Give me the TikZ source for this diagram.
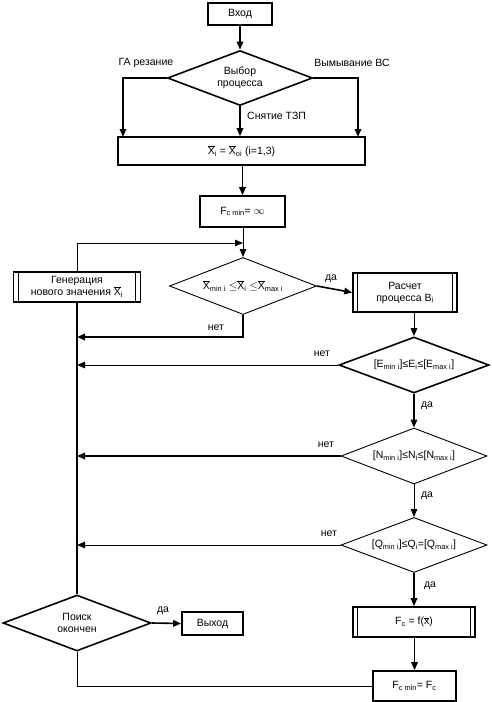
\documentclass[tikz,border=0pt]{standalone}
\usepackage{fontspec}
\setmainfont{Liberation Sans}
\usetikzlibrary{shapes.geometric,arrows.meta}
\newcommand{\ovX}{$\overline{\hbox{X}}$}
\newcommand{\ovx}{$\overline{\hbox{x}}$}
\newcommand{\sub}[1]{\textsubscript{#1}}
\begin{document}
\begin{tikzpicture}[x=1pt,y=-1pt,
  font=\fontsize{10.5}{12}\selectfont,
  thk/.style={line width=1.6pt},
  thn/.style={line width=0.9pt},
  arr/.style={-{Triangle[length=8pt,width=6.5pt]}},
  boxs/.style={draw,thk,rectangle,inner sep=0pt,align=center},
  dia/.style={draw,diamond,aspect=2.6,inner sep=0pt,align=center},
  lbl/.style={inner sep=0pt}]
\useasboundingbox (0,0) rectangle (491,702);
% nodes
\node[boxs,minimum width=64pt,minimum height=22pt] (vhod) at (240,14) {Вход};
\node[dia,thk,minimum width=145pt,minimum height=55pt] (vyb) at (240,78) {Выбор\\процесса};
\node[boxs,minimum width=247pt,minimum height=28pt] (xbox) at (241.5,151) {\ovX\sub{i} = \ovX\sub{oi} (i=1,3)};
\node[boxs,minimum width=85pt,minimum height=31pt] (fcinf) at (242.5,211.5) {F\sub{c min}= $\infty$};
\node[dia,thn,minimum width=147pt,minimum height=57pt] (d2) at (243,286) {\ovX\sub{min i} $\leq$\ovX\sub{i} $\leq$\ovX\sub{max i}};
\node[boxs,minimum width=127pt,minimum height=30pt] (gen) at (77,287) {Генерация\\нового значения \ovX\sub{i}};
\node[boxs,minimum width=104pt,minimum height=39pt] (rasch) at (405,292.5) {Расчет\\процесса B\sub{i}};
\node[dia,thk,minimum width=150pt,minimum height=56pt] (dE) at (414,365) {[E\sub{min i}]≤E\sub{i}≤[E\sub{max i}]};
\node[dia,thn,minimum width=146pt,minimum height=56pt] (dN) at (414,456) {[N\sub{min i}]≤N\sub{i}≤[N\sub{max i}]};
\node[dia,thn,minimum width=146pt,minimum height=55pt] (dQ) at (414,545) {[Q\sub{min i}]≤Q\sub{i}=[Q\sub{max i}]};
\node[boxs,minimum width=122pt,minimum height=30pt] (fc) at (414,622) {F\sub{c} = f(\ovx)};
\node[boxs,minimum width=83pt,minimum height=30pt] (fcmin) at (414.5,686) {F\sub{c min}= F\sub{c}};
\node[dia,thk,minimum width=148pt,minimum height=56pt] (poisk) at (77,623) {Поиск\\окончен};
\node[boxs,minimum width=61pt,minimum height=23pt] (vyhod) at (212.5,623.5) {Выход};
% predefined process inner lines
\draw[thn] ([xshift=6pt]gen.north west) -- ([xshift=6pt]gen.south west);
\draw[thn] ([xshift=-6pt]gen.north east) -- ([xshift=-6pt]gen.south east);
\draw[thn] ([xshift=5pt]rasch.north west) -- ([xshift=5pt]rasch.south west);
\draw[thn] ([xshift=-5pt]rasch.north east) -- ([xshift=-5pt]rasch.south east);
\draw[thn] ([xshift=5pt]fc.north west) -- ([xshift=5pt]fc.south west);
\draw[thn] ([xshift=-5pt]fc.north east) -- ([xshift=-5pt]fc.south east);
% labels
\node[lbl] (lga) at (146,63) {ГА резание};
\node[lbl] (lvym) at (352,63) {Вымывание ВС};
\node[lbl,anchor=west] (lsn) at (247,116) {Снятие ТЗП};
\node[lbl] (l1) at (331,279) {да};
\node[lbl] (l2) at (216,328) {нет};
\node[lbl] (l3) at (322,354) {нет};
\node[lbl] (l4) at (427,406) {да};
\node[lbl] (l5) at (326,445) {нет};
\node[lbl] (l6) at (427,496) {да};
\node[lbl] (l7) at (329,534) {нет};
\node[lbl] (l8) at (430,586) {да};
\node[lbl] (l9) at (163,611) {да};
% coordinates
\coordinate (xl) at (123,137);
\coordinate (xr) at (358,137);
\coordinate (j1) at (243,243);
\coordinate (n1) at (77,337);
\coordinate (n2) at (77,365);
\coordinate (n3) at (77,456);
\coordinate (n4) at (77,545);
% connectors
\draw[thk,arr] (vhod.south) -- (vyb.north);
\draw[thk,arr] (vyb.west) -| (xl);
\draw[thk,arr] (vyb.east) -| (xr);
\draw[thk,arr] (vyb.south) -- (vyb.south |- xbox.north);
\draw[thk,arr] (xbox.south -| fcinf.south) -- (fcinf.north);
\draw[thn,arr] (fcinf.south -| d2.north) -- (d2.north);
\draw[thn,arr] (gen.north) |- (j1);
\draw[thk] (gen.south) -- (poisk.north);
\draw[thk,arr] (d2.south) |- (n1);
\draw[thk,arr] (d2.east) -- (rasch.west);
\draw[thn,arr] (rasch.south -| dE.north) -- (dE.north);
\draw[thn,arr] (dE.west) -- (n2);
\draw[thk,arr] (dE.south) -- (dN.north);
\draw[thk,arr] (dN.west) -- (n3);
\draw[thn,arr] (dN.south) -- (dQ.north);
\draw[thn,arr] (dQ.west) -- (n4);
\draw[thk,arr] (dQ.south) -- (fc.north);
\draw[thk,arr] (fc.south -| fcmin.north) -- (fcmin.north);
\draw[thn] (fcmin.west) -| (poisk.south);
\draw[thk,arr] (poisk.east) -- (vyhod.west);
\end{tikzpicture}
\end{document}
